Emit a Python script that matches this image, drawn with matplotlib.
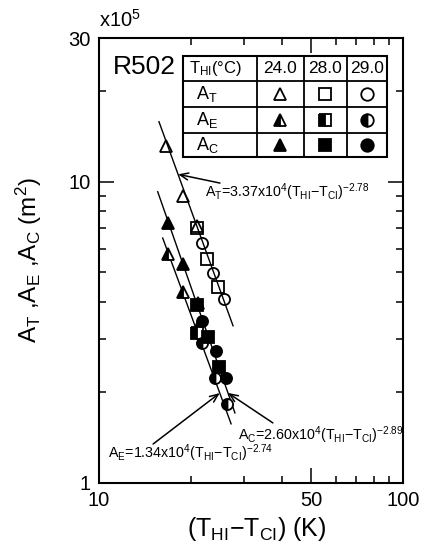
import matplotlib
matplotlib.use('Agg')
import matplotlib.pyplot as plt
import numpy as np
from matplotlib.patches import Rectangle
from matplotlib.ticker import FixedLocator, NullFormatter

plt.rcParams['font.family'] = ['Liberation Sans', 'DejaVu Sans']
plt.rcParams['mathtext.fontset'] = 'custom'
plt.rcParams['mathtext.rm'] = 'Liberation Sans'
plt.rcParams['mathtext.it'] = 'Liberation Sans'
plt.rcParams['mathtext.bf'] = 'Liberation Sans:bold'
plt.rcParams['mathtext.default'] = 'regular'

# ---- data: temperature difference (K) and area (x10^5 m^2) ----
t_hi_labels = ['24.0', '28.0', '29.0']

at_24_dt = [16.6, 18.9, 21.0]
at_24_a = [13.1, 9.0, 7.15]
at_28_dt = [21.0, 22.7, 24.6]
at_28_a = [7.0, 5.55, 4.48]
at_29_dt = [21.8, 23.7, 25.8]
at_29_a = [6.27, 4.99, 4.09]

ae_24_dt = [16.9, 18.9, 21.0]
ae_24_a = [5.77, 4.31, 3.25]
ae_28_dt = [21.0]
ae_28_a = [3.15]
ae_29_dt = [21.8, 24.1, 26.4]
ae_29_a = [2.92, 2.23, 1.83]

ac_24_dt = [16.9, 18.9, 21.2]
ac_24_a = [7.31, 5.34, 3.96]
ac_28_dt = [21.0, 22.8, 24.8]
ac_28_a = [3.9, 3.05, 2.43]
ac_29_dt = [21.8, 24.3, 26.2]
ac_29_a = [3.45, 2.75, 2.23]

# power-law fits A = c * (T_HI - T_CI)^n
at_fit = (3.37e4, -2.78)
ae_fit = (1.34e4, -2.74)
ac_fit = (2.60e4, -2.89)
at_fit_range = (15.75, 27.6)
ae_fit_range = (16.2, 27.2)
ac_fit_range = (15.6, 28.0)

x_ticks = [10, 50, 100]
x_minor = [20, 30, 40, 60, 70, 80, 90]
y_ticks = [1, 10, 30]
y_minor = [2, 3, 4, 5, 6, 7, 8, 9, 20]


def fit(c_n, x):
    c, n = c_n
    return c * np.asarray(x, dtype=float) ** n


fig = plt.figure(figsize=(4.24, 5.52), dpi=100)
ax = fig.add_axes([99 / 424, 1 - 483 / 552, 304 / 424, 445 / 552])
ax.set_xscale('log')
ax.set_yscale('log')
ax.set_xlim(10, 100)
ax.set_ylim(1, 30)

# fitted lines
for c_n, (lo, hi) in [(at_fit, at_fit_range), (ae_fit, ae_fit_range), (ac_fit, ac_fit_range)]:
    xs = np.geomspace(lo, hi, 50)
    ax.plot(xs, fit(c_n, xs), color='black', lw=1.0, zorder=2)

shapes = ['^', 's', 'o']
msize = 8
mew = 1.3


def hollow(m):
    return dict(marker=m, ms=msize, mew=mew, mec='black', mfc='none', ls='none')


def half(m):
    return dict(marker=m, ms=msize, mew=mew, mec='black', mfc='black',
                markerfacecoloralt='white', fillstyle='left', ls='none')


def full(m):
    return dict(marker=m, ms=msize, mew=mew, mec='black', mfc='black', ls='none')


groups = [
    (hollow, [(at_24_dt, at_24_a), (at_28_dt, at_28_a), (at_29_dt, at_29_a)]),
    (half, [(ae_24_dt, ae_24_a), (ae_28_dt, ae_28_a), (ae_29_dt, ae_29_a)]),
    (full, [(ac_24_dt, ac_24_a), (ac_28_dt, ac_28_a), (ac_29_dt, ac_29_a)]),
]
for style, series in groups:
    for m, (xs, ys) in zip(shapes, series):
        ax.plot(xs, ys, zorder=3, **style(m))

# axes styling
for s in ax.spines.values():
    s.set_linewidth(1.5)
ax.xaxis.set_major_locator(FixedLocator(x_ticks))
ax.xaxis.set_minor_locator(FixedLocator(x_minor))
ax.yaxis.set_major_locator(FixedLocator(y_ticks))
ax.yaxis.set_minor_locator(FixedLocator(y_minor))
ax.set_xticklabels([str(v) for v in x_ticks])
ax.set_yticklabels([str(v) for v in y_ticks])
ax.xaxis.set_minor_formatter(NullFormatter())
ax.yaxis.set_minor_formatter(NullFormatter())
ax.tick_params(which='both', direction='in', top=True, right=True,
               labelsize=14.5, pad=6)
ax.tick_params(which='major', length=11, width=1.1)
ax.tick_params(which='minor', length=5, width=1.1)

ax.set_xlabel('(T$_{HI}$−T$_{CI}$) (K)', fontsize=18)
ax.xaxis.set_label_coords(0.52, -0.072)
ax.set_ylabel('A$_T$ ,A$_E$ ,A$_C$ (m$^2$)', fontsize=17.5)
ax.yaxis.set_label_coords(-0.18, 0.5)

ax.text(0.0, 1.025, 'x10$^5$', transform=ax.transAxes, fontsize=14.5,
        ha='left', va='baseline')

ax.text(0.046, 0.935, 'R502', transform=ax.transAxes, fontsize=19,
        ha='left', va='center')

# symbol table
tx0, tx1 = 0.276, 0.947
ty0, ty1 = 0.7326, 0.9596
col_x = [0.5197, 0.674, 0.8158]
row_y = [0.9034, 0.845, 0.7865]
ax.add_patch(Rectangle((tx0, ty0), tx1 - tx0, ty1 - ty0, fill=False,
                       lw=1.5, transform=ax.transAxes, zorder=4))
for cx in col_x:
    ax.plot([cx, cx], [ty0, ty1], transform=ax.transAxes, color='black', lw=1.3, zorder=4)
for ry in row_y:
    ax.plot([tx0, tx1], [ry, ry], transform=ax.transAxes, color='black', lw=1.3, zorder=4)

col_edges = [tx0] + col_x + [tx1]
row_edges = [ty1] + row_y + [ty0]
col_centres = [(col_edges[i] + col_edges[i + 1]) / 2 for i in range(4)]
row_centres = [(row_edges[i] + row_edges[i + 1]) / 2 for i in range(4)]

ax.text(0.296, row_centres[0], 'T$_{HI}$(°C)', transform=ax.transAxes,
        fontsize=12, ha='left', va='center')
for j, lab in enumerate(t_hi_labels):
    ax.text(col_centres[j + 1], row_centres[0], lab, transform=ax.transAxes,
            fontsize=12.5, ha='center', va='center')
row_names = ['A$_T$', 'A$_E$', 'A$_C$']
for i, (name, (style, _)) in enumerate(zip(row_names, groups)):
    ax.text(0.318, row_centres[i + 1], name, transform=ax.transAxes,
            fontsize=13, ha='left', va='center')
    for j, m in enumerate(shapes):
        st = style(m)
        st['ms'] = 9
        ax.plot([col_centres[j + 1]], [row_centres[i + 1]], transform=ax.transAxes,
                zorder=5, **st)

# fit annotations
arrow = dict(arrowstyle='->,head_length=0.6,head_width=0.25', lw=1.1,
             color='black', shrinkA=0, shrinkB=0)
ann_size = 10.3
ax.text(0.349, 0.654, 'A$_T$=3.37x10$^4$(T$_{HI}$−T$_{CI}$)$^{-2.78}$',
        transform=ax.transAxes, fontsize=ann_size, ha='left', va='center')
ax.annotate('', xy=(18.2, fit(at_fit, 18.2)), xycoords='data',
            xytext=(0.398, 0.674), textcoords='axes fraction', arrowprops=arrow)

ax.text(0.03, 0.067, 'A$_E$=1.34x10$^4$(T$_{HI}$−T$_{CI}$)$^{-2.74}$',
        transform=ax.transAxes, fontsize=ann_size, ha='left', va='center')
ax.annotate('', xy=(24.96, fit(ae_fit, 24.96)), xycoords='data',
            xytext=(0.178, 0.0876), textcoords='axes fraction', arrowprops=arrow)

ax.text(0.457, 0.108, 'A$_C$=2.60x10$^4$(T$_{HI}$−T$_{CI}$)$^{-2.89}$',
        transform=ax.transAxes, fontsize=ann_size, ha='left', va='center')
ax.annotate('', xy=(26.56, fit(ac_fit, 26.56)), xycoords='data',
            xytext=(0.572, 0.135), textcoords='axes fraction', arrowprops=arrow)

fig.savefig('out.png', dpi=100)
